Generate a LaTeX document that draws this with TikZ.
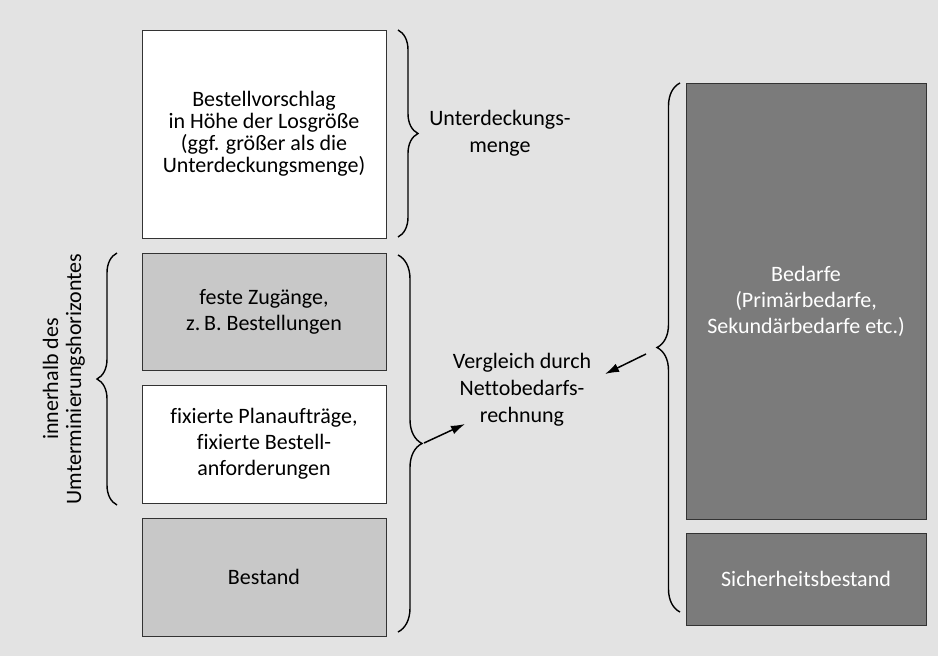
\documentclass[tikz,border=0pt]{standalone}
\usepackage{fontspec}
\setmainfont{Carlito}[Ligatures=CommonOff]
\usetikzlibrary{decorations.pathreplacing,arrows.meta}
\definecolor{bg}{HTML}{E3E3E3}
\definecolor{lightbox}{HTML}{C8C8C8}
\definecolor{darkbox}{HTML}{7B7B7B}
\definecolor{edge}{HTML}{333333}
\begin{document}
\begin{tikzpicture}[x=1pt,y=-1pt,
  box/.style={draw=edge, line width=1pt, inner sep=0pt, align=center,
    font=\fontsize{22}{26}\selectfont},
  lab/.style={align=center, inner sep=0pt, font=\fontsize{22}{27}\selectfont},
  bracket/.style={decorate, decoration={brace, amplitude=#1}, line width=1.4pt},
  bracket/.default=22pt,
  arr/.style={-{Latex[length=14pt,width=9pt]}, line width=1.5pt}]
\fill[bg] (0,0) rectangle (938,656);
\useasboundingbox (0,0) rectangle (938,656);

% left column: supply side
\node[box, fill=white, minimum width=244pt, minimum height=208pt,
  font=\fontsize{22}{22}\selectfont] (vorschlag) at (264,134)
  {Bestellvorschlag\\in Höhe der Losgröße\\(ggf. größer als die\\Unterdeckungsmenge)};
\node[box, fill=lightbox, minimum width=244pt, minimum height=117pt] (zugaenge) at (264,311.5)
  {feste Zugänge,\\z.\,B. Bestellungen};
\node[box, fill=white, minimum width=244pt, minimum height=118pt] (fixiert) at (264,444)
  {fixierte Planaufträge,\\fixierte Bestell-\\anforderungen};
\node[box, fill=lightbox, minimum width=244pt, minimum height=118pt] (bestand) at (264,577)
  {Bestand};

% right column: demand side
\node[box, fill=darkbox, text=white, minimum width=240pt, minimum height=436pt] (bedarfe) at (806,301)
  {Bedarfe\\(Primärbedarfe,\\Sekundärbedarfe etc.)};
\node[box, fill=darkbox, text=white, minimum width=240pt, minimum height=92pt] (sicher) at (806,579)
  {Sicherheitsbestand};

% braces
\draw[bracket=20pt] (398,30) -- (398,237);
\draw[bracket=24pt] (398,255) -- (398,632);
\draw[bracket=20pt] (117,505) -- (117,253);
\draw[bracket=23pt] (680,612) -- (680,83);

% labels
\node[lab] (unter) at (500,133) {Unterdeckungs-\\menge};
\node[lab] (vergleich) at (522,390) {Vergleich durch\\Nettobedarfs-\\rechnung};
\node[lab, rotate=90, font=\fontsize{22}{23}\selectfont] (horizont) at (64,379)
  {innerhalb des\\Umterminierungshorizontes};

% arrows from brace tips towards the comparison label
\coordinate (tipS) at (424,443);
\coordinate (endS) at (465,424);
\coordinate (tipD) at (646,354);
\coordinate (endD) at (605,374);
\draw[arr] (tipS) -- (endS);
\draw[arr] (tipD) -- (endD);
\end{tikzpicture}
\end{document}
